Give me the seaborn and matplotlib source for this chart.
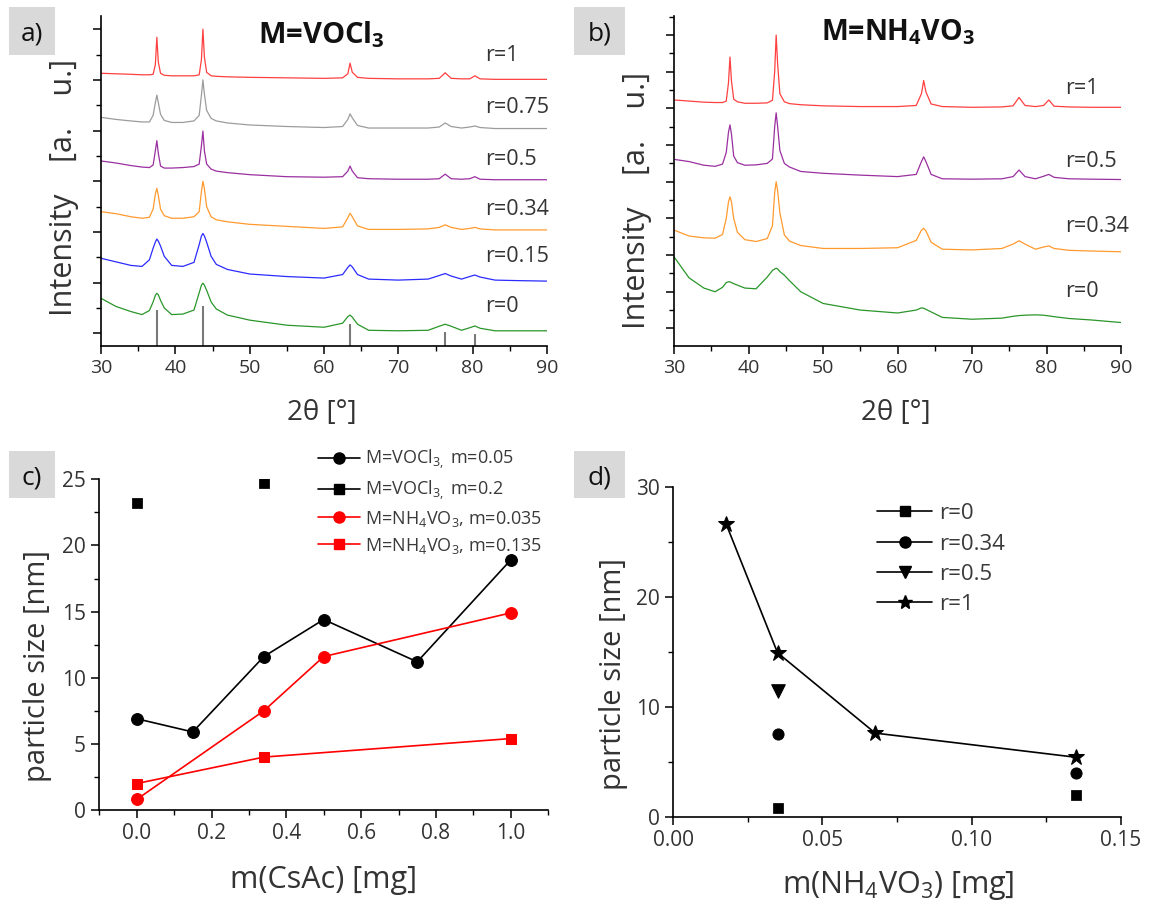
import numpy as np
import pandas as pd
import matplotlib.pyplot as plt
import seaborn as sns
from matplotlib.lines import Line2D
from matplotlib.patches import Rectangle
from matplotlib.ticker import MultipleLocator

# ============================
# DATA
# ============================
two_theta = [30, 32, 34, 35.5, 36.5, 37.0, 37.3, 37.5, 37.7, 38.0, 38.5, 39.5, 41, 42.5,
             43.2, 43.5, 43.7, 43.9, 44.2, 44.8, 45.5, 47, 50, 55, 60, 62.5, 63.2, 63.5,
             63.8, 64.5, 66, 70, 74, 75.5, 76.3, 77.1, 78.5, 79.6, 80.3, 81, 83, 86, 90]

# panel a) M=VOCl3, relative intensity above each offset
a_labels = ["r=1", "r=0.75", "r=0.5", "r=0.34", "r=0.15", "r=0"]
a_offsets = [5, 4, 3, 2, 1, 0]
a_r1 = [0.13, 0.12, 0.11, 0.10, 0.10, 0.11, 0.30, 0.84, 0.35, 0.13, 0.09, 0.08, 0.08, 0.08,
        0.10, 0.40, 1.00, 0.45, 0.15, 0.08, 0.07, 0.06, 0.05, 0.04, 0.03, 0.04, 0.12, 0.33,
        0.15, 0.05, 0.03, 0.02, 0.02, 0.03, 0.14, 0.03, 0.02, 0.02, 0.08, 0.02, 0.01, 0.01, 0.01]
a_r075 = [0.26, 0.22, 0.19, 0.17, 0.17, 0.30, 0.55, 0.70, 0.55, 0.32, 0.20, 0.16, 0.16, 0.19,
          0.30, 0.70, 1.00, 0.72, 0.40, 0.24, 0.19, 0.15, 0.11, 0.08, 0.06, 0.08, 0.22, 0.33,
          0.25, 0.10, 0.05, 0.05, 0.05, 0.07, 0.15, 0.08, 0.05, 0.07, 0.09, 0.06, 0.04, 0.04, 0.04]
a_r05 = [0.40, 0.36, 0.31, 0.28, 0.27, 0.32, 0.60, 0.80, 0.55, 0.30, 0.26, 0.26, 0.27, 0.29,
         0.34, 0.70, 0.99, 0.60, 0.34, 0.24, 0.20, 0.17, 0.13, 0.09, 0.08, 0.09, 0.20, 0.30,
         0.20, 0.07, 0.05, 0.04, 0.04, 0.05, 0.14, 0.05, 0.04, 0.05, 0.09, 0.04, 0.03, 0.03, 0.03]
a_r034 = [0.40, 0.36, 0.30, 0.27, 0.29, 0.45, 0.75, 0.86, 0.72, 0.45, 0.32, 0.27, 0.27, 0.30,
          0.40, 0.80, 1.00, 0.85, 0.50, 0.30, 0.24, 0.20, 0.15, 0.11, 0.07, 0.10, 0.28, 0.37,
          0.30, 0.12, 0.05, 0.05, 0.06, 0.09, 0.14, 0.09, 0.05, 0.07, 0.09, 0.06, 0.04, 0.04, 0.04]
a_r015 = [0.48, 0.41, 0.34, 0.32, 0.45, 0.68, 0.80, 0.86, 0.82, 0.72, 0.52, 0.34, 0.32, 0.40,
          0.75, 0.92, 0.97, 0.92, 0.80, 0.52, 0.36, 0.26, 0.17, 0.12, 0.09, 0.16, 0.30, 0.35,
          0.31, 0.16, 0.07, 0.05, 0.07, 0.14, 0.18, 0.13, 0.07, 0.12, 0.15, 0.11, 0.05, 0.04, 0.03]
a_r0 = [0.69, 0.53, 0.43, 0.37, 0.45, 0.62, 0.75, 0.79, 0.76, 0.65, 0.50, 0.37, 0.38, 0.46,
        0.80, 0.95, 0.99, 0.95, 0.85, 0.62, 0.48, 0.36, 0.26, 0.16, 0.12, 0.20, 0.33, 0.36,
        0.32, 0.18, 0.06, 0.05, 0.06, 0.14, 0.18, 0.14, 0.06, 0.11, 0.145, 0.10, 0.05, 0.05, 0.05]
a_colors = ["#ff4040", "#9c9c9c", "#9a2fa0", "#ff9a2e", "#2b2bff", "#2a962a"]

# reference pattern sticks in a)
ref_pos = [37.5, 43.7, 63.5, 76.3, 80.3]
ref_top = [0.46, 0.54, 0.18, 0.03, -0.02]

# panel b) M=NH4VO3
b_labels = ["r=1", "r=0.5", "r=0.34", "r=0"]
b_offsets = [6, 4, 2, 0]
b_r1 = [0.23, 0.20, 0.17, 0.16, 0.16, 0.20, 0.70, 1.40, 0.75, 0.25, 0.18, 0.14, 0.14, 0.15,
        0.22, 1.00, 2.00, 1.20, 0.40, 0.18, 0.13, 0.10, 0.07, 0.05, 0.05, 0.08, 0.40, 0.76,
        0.45, 0.12, 0.05, 0.03, 0.04, 0.07, 0.30, 0.08, 0.05, 0.08, 0.23, 0.06, 0.04, 0.03, 0.03]
b_r05 = [0.61, 0.55, 0.45, 0.42, 0.48, 0.80, 1.35, 1.55, 1.30, 0.70, 0.52, 0.45, 0.46, 0.50,
         0.62, 1.50, 1.88, 1.50, 0.85, 0.50, 0.40, 0.28, 0.23, 0.18, 0.14, 0.20, 0.55, 0.68,
         0.55, 0.20, 0.08, 0.07, 0.08, 0.14, 0.32, 0.14, 0.08, 0.15, 0.20, 0.12, 0.08, 0.07, 0.06]
b_r034 = [0.68, 0.52, 0.47, 0.46, 0.56, 1.00, 1.45, 1.59, 1.45, 1.00, 0.62, 0.42, 0.37, 0.45,
          0.80, 1.70, 2.00, 1.75, 1.15, 0.55, 0.38, 0.26, 0.18, 0.18, 0.20, 0.40, 0.68, 0.73,
          0.66, 0.35, 0.16, 0.14, 0.18, 0.30, 0.39, 0.30, 0.16, 0.22, 0.25, 0.18, 0.13, 0.11, 0.09]
b_r0 = [1.95, 1.38, 1.10, 1.00, 1.12, 1.25, 1.27, 1.27, 1.25, 1.22, 1.18, 1.10, 1.08, 1.40,
        1.58, 1.62, 1.64, 1.62, 1.55, 1.45, 1.30, 1.00, 0.68, 0.50, 0.42, 0.50, 0.56, 0.55,
        0.52, 0.45, 0.30, 0.25, 0.28, 0.33, 0.35, 0.36, 0.37, 0.36, 0.34, 0.32, 0.27, 0.23, 0.16]
b_colors = ["#ff4040", "#9a2fa0", "#ff9a2e", "#2a962a"]

# panel c) particle size vs m(CsAc)
c_voc_005_x = [0.0, 0.15, 0.34, 0.5, 0.75, 1.0]
c_voc_005_y = [6.9, 5.9, 11.6, 14.4, 11.2, 18.9]
c_voc_02_x = [0.0, 0.34]
c_voc_02_y = [23.2, 24.7]
c_nh4_0035_x = [0.0, 0.34, 0.5, 1.0]
c_nh4_0035_y = [0.8, 7.5, 11.6, 14.9]
c_nh4_0135_x = [0.0, 0.34, 1.0]
c_nh4_0135_y = [2.0, 4.0, 5.4]

# panel d) particle size vs m(NH4VO3)
d_r1_x = [0.0178, 0.035, 0.0677, 0.135]
d_r1_y = [26.6, 14.9, 7.6, 5.4]
d_r05_x = [0.035]
d_r05_y = [11.45]
d_r034_x = [0.035, 0.135]
d_r034_y = [7.5, 4.0]
d_r0_x = [0.035, 0.135]
d_r0_y = [0.8, 2.0]

# ============================
# STYLE
# ============================
sns.set_theme(style="ticks")
FONT = ["Open Sans", "DejaVu Sans"]
plt.rcParams["font.family"] = FONT
plt.rcParams["mathtext.fontset"] = "custom"
plt.rcParams["mathtext.rm"] = "Open Sans"
plt.rcParams["mathtext.it"] = "Open Sans:italic"
plt.rcParams["mathtext.bf"] = "Open Sans:bold"
TXT = "#333333"

fig = plt.figure(figsize=(11.51, 9.07), dpi=100)
W, H = 1151, 907


def axes_px(x0, x1, y0, y1):
    return fig.add_axes([x0 / W, 1 - y1 / H, (x1 - x0) / W, (y1 - y0) / H])


def style_axes(ax, size=14):
    for s in ["top", "right"]:
        ax.spines[s].set_visible(False)
    for s in ["left", "bottom"]:
        ax.spines[s].set_linewidth(1.2)
        ax.spines[s].set_color("black")
    ax.tick_params(which="major", direction="out", length=6, width=1.1, color="black",
                   labelsize=size, labelcolor=TXT)
    ax.tick_params(which="minor", direction="out", length=3.5, width=1.0, color="black")
    ax.grid(False)


def panel_tag(x0, y0, x1, y1, tag):
    fig.add_artist(Rectangle((x0 / W, 1 - y1 / H), (x1 - x0) / W, (y1 - y0) / H,
                             transform=fig.transFigure, facecolor="#d9d9d9",
                             edgecolor="none"))
    fig.text((x0 + x1) / 2 / W, 1 - ((y0 + y1) / 2 + 3) / H, tag, ha="center",
             va="center", fontsize=19, color="#111111")


def set_labels(ax, xl, yl, xpos, ypos, xsize=20, ysize=22):
    ax.set_xlabel(xl, fontsize=xsize, color=TXT)
    ax.set_ylabel(yl, fontsize=ysize, color=TXT)
    ax.xaxis.label.set_va("center")
    ax.yaxis.label.set_va("center")
    ax.xaxis.set_label_coords(*xpos)
    ax.yaxis.set_label_coords(*ypos)


def xrd_frame(curves, offsets, labels):
    rows = []
    for rel, off, lab in zip(curves, offsets, labels):
        rows.append(pd.DataFrame({"two_theta": two_theta,
                                  "intensity": np.array(rel) + off, "r": lab}))
    return pd.concat(rows, ignore_index=True)


# ============================
# a) XRD, M=VOCl3
# ============================
ax_a = axes_px(101.1, 547, 16, 346)
df_a = xrd_frame([a_r1, a_r075, a_r05, a_r034, a_r015, a_r0], a_offsets, a_labels)
sns.lineplot(data=df_a, x="two_theta", y="intensity", hue="r", hue_order=a_labels,
             palette=a_colors, sort=False, estimator=None, legend=False, linewidth=0.9,
             ax=ax_a)
ax_a.vlines(ref_pos, -0.25, ref_top, color="#7a7a7a", linewidth=1.5)
ax_a.set_xlim(30, 90)
ax_a.set_ylim(-0.25, 6.26)
ax_a.set_xticks(range(30, 91, 10))
ax_a.xaxis.set_minor_locator(MultipleLocator(5))
ax_a.set_yticks(range(0, 7))
ax_a.yaxis.set_minor_locator(MultipleLocator(0.5))
style_axes(ax_a)
ax_a.tick_params(labelleft=False)
for lab, y in zip(a_labels, [5.49, 4.45, 3.42, 2.45, 1.51, 0.53]):
    ax_a.text(81.7, y, lab, fontsize=15.5, color=TXT, va="center", ha="left")
ax_a.text(59.7, 5.73, r"M=VOCl$_\mathbf{3}$", fontsize=21, fontweight="bold",
          ha="center", va="baseline", color="#111111")
set_labels(ax_a, "2θ [°]", "Intensity    [a.    u.]", (0.495, -0.203), (-0.083, 0.482))
panel_tag(9.3, 7, 54.8, 55, "a)")

# ============================
# b) XRD, M=NH4VO3
# ============================
ax_b = axes_px(674.1, 1121.1, 16, 346)
df_b = xrd_frame([b_r1, b_r05, b_r034, b_r0], b_offsets, b_labels)
sns.lineplot(data=df_b, x="two_theta", y="intensity", hue="r", hue_order=b_labels,
             palette=b_colors, sort=False, estimator=None, legend=False, linewidth=0.9,
             ax=ax_b)
ax_b.set_xlim(30, 90)
ax_b.set_ylim(-0.48, 8.52)
ax_b.set_xticks(range(30, 91, 10))
ax_b.xaxis.set_minor_locator(MultipleLocator(5))
ax_b.set_yticks(range(0, 9))
ax_b.yaxis.set_minor_locator(MultipleLocator(0.5))
style_axes(ax_b)
ax_b.tick_params(labelleft=False)
for lab, y in zip(b_labels, [6.55, 4.55, 2.77, 1.0]):
    ax_b.text(82.5, y, lab, fontsize=15.5, color=TXT, va="center", ha="left")
ax_b.text(60.05, 7.86, r"M=NH$_\mathbf{4}$VO$_\mathbf{3}$", fontsize=20.5, fontweight="bold",
          ha="center", va="baseline", color="#111111")
set_labels(ax_b, "2θ [°]", "Intensity    [a.    u.]", (0.496, -0.203), (-0.082, 0.44))
panel_tag(573.7, 7, 624.8, 55, "b)")

# ============================
# c) particle size vs m(CsAc)
# ============================
ax_c = axes_px(99.3, 548.1, 479.3, 810)
sns.lineplot(x=c_voc_005_x, y=c_voc_005_y, color="black", marker="o", markersize=8.5,
             markeredgecolor="black", linewidth=1.2, ax=ax_c)
sns.scatterplot(x=c_voc_02_x, y=c_voc_02_y, color="black", marker="s", s=48,
                edgecolor="black", ax=ax_c)
sns.lineplot(x=c_nh4_0035_x, y=c_nh4_0035_y, color="red", marker="o", markersize=8.5,
             markeredgecolor="red", linewidth=1.2, ax=ax_c)
sns.lineplot(x=c_nh4_0135_x, y=c_nh4_0135_y, color="red", marker="s", markersize=7,
             markeredgecolor="red", linewidth=1.2, ax=ax_c)
ax_c.set_xlim(-0.1, 1.1)
ax_c.set_ylim(0, 25)
ax_c.set_xticks([0.0, 0.2, 0.4, 0.6, 0.8, 1.0])
ax_c.xaxis.set_minor_locator(MultipleLocator(0.1))
ax_c.set_yticks(range(0, 26, 5))
ax_c.yaxis.set_minor_locator(MultipleLocator(2.5))
style_axes(ax_c, size=15)
c_handles = [
    Line2D([], [], color="black", marker="o", markersize=8, lw=1.2),
    Line2D([], [], color="black", marker="s", markersize=7, lw=1.2),
    Line2D([], [], color="red", marker="o", markersize=8, lw=1.2),
    Line2D([], [], color="red", marker="s", markersize=7, lw=1.2),
]
c_names = [r"M=VOCl$_{3,}$ m=0.05", r"M=VOCl$_{3,}$ m=0.2",
           r"M=NH$_4$VO$_3$, m=0.035", r"M=NH$_4$VO$_3$, m=0.135"]
leg_c = ax_c.legend(c_handles, c_names, loc="upper left", bbox_to_anchor=(0.488, 1.095),
                    frameon=False, fontsize=13, handlelength=2.3, handletextpad=0.28,
                    labelspacing=0.38, borderpad=0, borderaxespad=0)
for t in leg_c.get_texts():
    t.set_color("#3a3a3a")
set_labels(ax_c, "m(CsAc) [mg]", "particle size [nm]", (0.4996, -0.212), (-0.137, 0.434),
           xsize=22, ysize=21)
panel_tag(9.3, 451, 54.8, 498, "c)")

# ============================
# d) particle size vs m(NH4VO3)
# ============================
ax_d = axes_px(673, 1121.1, 486.7, 816.7)
sns.lineplot(x=d_r1_x, y=d_r1_y, color="black", marker="*", markersize=12,
             markeredgecolor="black", linewidth=1.2, ax=ax_d)
sns.scatterplot(x=d_r05_x, y=d_r05_y, color="black", marker="v", s=95,
                edgecolor="black", ax=ax_d)
sns.scatterplot(x=d_r034_x, y=d_r034_y, color="black", marker="o", s=65,
                edgecolor="black", ax=ax_d)
sns.scatterplot(x=d_r0_x, y=d_r0_y, color="black", marker="s", s=45,
                edgecolor="black", ax=ax_d)
ax_d.set_xlim(0, 0.15)
ax_d.set_ylim(0, 30)
ax_d.set_xticks([0.0, 0.05, 0.10, 0.15])
ax_d.set_xticklabels(["0.00", "0.05", "0.10", "0.15"])
ax_d.xaxis.set_minor_locator(MultipleLocator(0.025))
ax_d.set_yticks([0, 10, 20, 30])
ax_d.yaxis.set_minor_locator(MultipleLocator(5))
style_axes(ax_d, size=15)
d_handles = [
    Line2D([], [], color="black", marker="s", markersize=7, lw=1.2),
    Line2D([], [], color="black", marker="o", markersize=8, lw=1.2),
    Line2D([], [], color="black", marker="v", markersize=8.5, lw=1.2),
    Line2D([], [], color="black", marker="*", markersize=10, lw=1.2),
]
leg_d = ax_d.legend(d_handles, ["r=0", "r=0.34", "r=0.5", "r=1"], loc="upper left",
                    bbox_to_anchor=(0.455, 0.95), frameon=False, fontsize=16,
                    handlelength=2.5, handletextpad=0.3, labelspacing=0.42,
                    borderpad=0, borderaxespad=0)
for t in leg_d.get_texts():
    t.set_color("#3a3a3a")
set_labels(ax_d, "m(NH$_4$VO$_3$) [mg]", "particle size [nm]", (0.502, -0.207),
           (-0.133, 0.432), xsize=22, ysize=21)
panel_tag(573.7, 451, 624.8, 498, "d)")

fig.savefig("out.png", dpi=100)
